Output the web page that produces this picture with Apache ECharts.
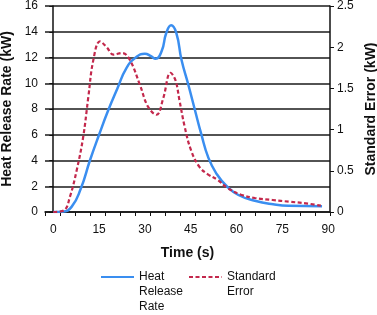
<!DOCTYPE html>
<html>
<head>
<meta charset="utf-8">
<script src="https://cdn.jsdelivr.net/npm/echarts@6/dist/echarts.min.js"></script>
<style>
  html, body { margin: 0; padding: 0; background: #fff; }
  #chart { width: 377px; height: 315px; }
</style>
</head>
<body>
<div id="chart"></div>
<script>
// 时间 (s) 与放热速率 (kW)
var hrrTime = [0, 3, 6, 9, 12, 15, 18, 21, 24, 27, 30, 32, 33.5, 35.5, 37, 38.6, 40.3, 42, 44.2, 46.4, 48.4, 50.8, 53.5, 56.8, 60.6, 66, 72, 77, 88];
var hrrValue = [0, 0.02, 0.4, 1.8, 4.0, 6.0, 7.9, 9.6, 11.2, 12.0, 12.3, 12.1, 11.9, 12.5, 13.9, 14.5, 13.9, 11.8, 9.9, 7.9, 6.1, 4.2, 2.95, 2.0, 1.32, 0.88, 0.6, 0.48, 0.45];

// 标准误差 (kW)
var seTime = [0, 3.5, 5.5, 7.7, 9.8, 11.5, 13.1, 15.3, 17.5, 19.7, 22.5, 25, 28.4, 31, 33.8, 36, 38.4, 40, 41.3, 43, 45.1, 47.8, 50.5, 53.8, 57.1, 61.5, 66, 71.8, 77.3, 82.7, 87.6];
var seValue = [0, 0.02, 0.19, 0.51, 0.91, 1.4, 1.84, 2.07, 2.0, 1.91, 1.93, 1.85, 1.54, 1.28, 1.18, 1.38, 1.69, 1.6, 1.36, 1.04, 0.75, 0.55, 0.46, 0.39, 0.29, 0.21, 0.17, 0.146, 0.125, 0.105, 0.077];

var xLabels = [0, 15, 30, 45, 60, 75, 90];

var xMin = -2.7, xMax = 90.6;
// Excel 样式的刻度线，与标签不对齐
var xTicks = [];
for (var k = 0; k <= 19; k++) xTicks.push(xMin + k * (xMax - xMin) / 19);

function zip(a, b) {
    return a.map(function (v, i) { return [v, b[i]]; });
}

var font = 'Liberation Sans, Arial, sans-serif';
var chart = echarts.init(document.getElementById('chart'));

var legendText = { fontSize: 12, color: '#111', fontFamily: font, lineHeight: 15 };

// 图例文字前面加空行，让第一行和线条对齐
chart.setOption({
    animation: false,
    textStyle: { fontFamily: font },
    grid: { left: 45, right: 47, top: 6, bottom: 103, containLabel: false, outerBoundsMode: 'none' },
    legend: [
        {
            left: 100,
            top: 239.5,
            padding: 0,
            itemWidth: 33,
            itemHeight: 4,
            itemStyle: { opacity: 0 },
            data: ['Heat Release Rate'],
            formatter: function () { return '\n\nHeat\nRelease\nRate'; },
            textStyle: legendText
        },
        {
            left: 188,
            top: 254.5,
            padding: 0,
            itemWidth: 33,
            itemHeight: 4,
            itemStyle: { opacity: 0 },
            data: ['Standard Error'],
            formatter: function () { return '\nStandard\nError'; },
            textStyle: legendText
        }
    ],
    xAxis: {
        type: 'value',
        min: xMin,
        max: xMax,
        name: 'Time (s)',
        nameLocation: 'middle',
        nameGap: 34,
        nameTextStyle: { fontSize: 14, fontWeight: 'bold', color: '#111', fontFamily: font },
        axisLine: { onZero: false, lineStyle: { color: '#111', width: 1.5 } },
        axisTick: { show: true, length: 4, customValues: xTicks, lineStyle: { color: '#111' } },
        axisLabel: { customValues: xLabels, fontSize: 12, color: '#111', margin: 12 },
        splitLine: { show: false }
    },
    yAxis: [
        {
            type: 'value',
            min: 0,
            max: 16,
            interval: 2,
            name: 'Heat Release Rate (kW)',
            nameLocation: 'middle',
            nameGap: 30,
            nameTextStyle: { fontSize: 14, fontWeight: 'bold', color: '#111', fontFamily: font },
            axisLine: { show: true, lineStyle: { color: '#111', width: 1.5 } },
            axisTick: { show: true, length: 4, lineStyle: { color: '#111' } },
            axisLabel: { fontSize: 12, color: '#111', margin: 7 },
            splitLine: { show: true, lineStyle: { color: '#1a1a1a', width: 1.6 } }
        },
        {
            type: 'value',
            min: 0,
            max: 2.5,
            interval: 0.5,
            name: 'Standard Error (kW)',
            nameLocation: 'middle',
            nameRotate: 90,
            nameGap: 34,
            nameTextStyle: { fontSize: 14, fontWeight: 'bold', color: '#111', fontFamily: font },
            axisLine: { show: true, lineStyle: { color: '#111', width: 1.5 } },
            axisTick: { show: true, length: 4, lineStyle: { color: '#111' } },
            axisLabel: { fontSize: 12, color: '#111', margin: 7 },
            splitLine: { show: false }
        }
    ],
    series: [
        {
            name: 'Heat Release Rate',
            type: 'line',
            yAxisIndex: 0,
            data: zip(hrrTime, hrrValue),
            smooth: 0.5,
            symbol: 'none',
            lineStyle: { color: '#3a8ef0', width: 2.5 },
            itemStyle: { color: '#3a8ef0' },
            z: 3
        },
        {
            name: 'Standard Error',
            type: 'line',
            yAxisIndex: 1,
            data: zip(seTime, seValue),
            smooth: 0.4,
            symbol: 'none',
            lineStyle: { color: '#c3284c', width: 2.2, type: [4, 2.5] },
            itemStyle: { color: '#c3284c' },
            z: 4
        }
    ]
});

window.addEventListener('resize', function () { chart.resize(); });
</script>
</body>
</html>
